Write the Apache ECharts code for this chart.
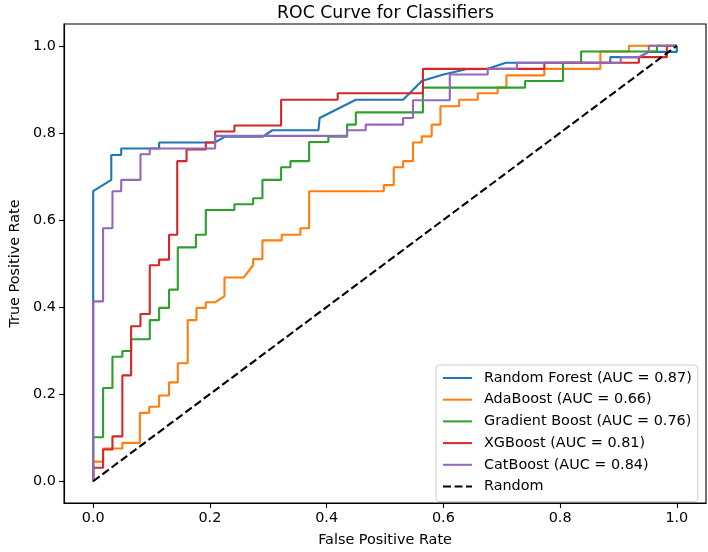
<!DOCTYPE html>
<html>
<head>
<meta charset="utf-8">
<script src="https://cdn.jsdelivr.net/npm/echarts@6/dist/echarts.min.js"></script>
<style>html,body{margin:0;padding:0;background:#fff}#c{width:708px;height:552px}</style>
</head>
<body>
<div id="c"></div>
<script>
const tickValues = [0, 0.2, 0.4, 0.6, 0.8, 1.0];
const seriesNames = ['Random Forest (AUC = 0.87)', 'AdaBoost (AUC = 0.66)', 'Gradient Boost (AUC = 0.76)', 'XGBoost (AUC = 0.81)', 'CatBoost (AUC = 0.84)', 'Random'];
const colors = ['#1f77b4', '#ff7f0e', '#2ca02c', '#d62728', '#9467bd', '#000000'];

const rfFpr = [0, 0, 0.031, 0.031, 0.048, 0.048, 0.113, 0.113, 0.209, 0.225, 0.290, 0.307, 0.386, 0.388, 0.450, 0.531, 0.563, 0.600, 0.639, 0.676, 0.707, 0.886, 0.886, 0.936, 0.952, 1.0, 1.0];
const rfTpr = [0, 0.666, 0.692, 0.749, 0.749, 0.764, 0.764, 0.778, 0.778, 0.791, 0.791, 0.806, 0.806, 0.834, 0.876, 0.876, 0.919, 0.934, 0.946, 0.947, 0.961, 0.961, 0.974, 0.974, 0.986, 0.986, 1.0];

const adaFpr = [0, 0, 0.017, 0.017, 0.050, 0.050, 0.080, 0.080, 0.096, 0.096, 0.113, 0.113, 0.130, 0.130, 0.145, 0.145, 0.162, 0.162, 0.177, 0.177, 0.193, 0.193, 0.209, 0.225, 0.225, 0.258, 0.274, 0.274, 0.290, 0.290, 0.323, 0.323, 0.355, 0.355, 0.370, 0.370, 0.498, 0.498, 0.515, 0.515, 0.531, 0.531, 0.548, 0.548, 0.563, 0.563, 0.580, 0.580, 0.595, 0.595, 0.627, 0.627, 0.659, 0.659, 0.693, 0.693, 0.708, 0.708, 0.773, 0.773, 0.869, 0.869, 0.918, 0.918, 1.0];
const adaTpr = [0, 0.045, 0.045, 0.075, 0.075, 0.088, 0.088, 0.157, 0.157, 0.171, 0.171, 0.197, 0.197, 0.227, 0.227, 0.271, 0.271, 0.370, 0.370, 0.398, 0.398, 0.411, 0.411, 0.425, 0.468, 0.468, 0.496, 0.510, 0.510, 0.553, 0.553, 0.566, 0.566, 0.581, 0.581, 0.666, 0.666, 0.680, 0.680, 0.721, 0.721, 0.735, 0.735, 0.778, 0.778, 0.792, 0.792, 0.819, 0.819, 0.861, 0.861, 0.876, 0.876, 0.891, 0.891, 0.904, 0.904, 0.932, 0.932, 0.947, 0.947, 0.987, 0.987, 1.0, 1.0];

const gbFpr = [0, 0, 0.017, 0.017, 0.033, 0.033, 0.050, 0.050, 0.065, 0.065, 0.097, 0.097, 0.113, 0.113, 0.130, 0.130, 0.145, 0.145, 0.176, 0.176, 0.193, 0.193, 0.242, 0.242, 0.274, 0.274, 0.290, 0.290, 0.322, 0.322, 0.338, 0.338, 0.370, 0.370, 0.403, 0.403, 0.435, 0.435, 0.450, 0.450, 0.565, 0.565, 0.740, 0.740, 0.805, 0.805, 0.836, 0.836, 0.966, 0.966, 1.0];
const gbTpr = [0, 0.101, 0.101, 0.214, 0.214, 0.286, 0.286, 0.299, 0.299, 0.326, 0.326, 0.370, 0.370, 0.398, 0.398, 0.440, 0.440, 0.537, 0.537, 0.566, 0.566, 0.623, 0.623, 0.636, 0.636, 0.650, 0.650, 0.692, 0.692, 0.721, 0.721, 0.735, 0.735, 0.779, 0.779, 0.791, 0.791, 0.819, 0.819, 0.847, 0.847, 0.904, 0.904, 0.919, 0.919, 0.961, 0.961, 0.987, 0.987, 1.0, 1.0];

const xgbFpr = [0, 0, 0.017, 0.017, 0.033, 0.033, 0.050, 0.050, 0.065, 0.065, 0.081, 0.081, 0.097, 0.097, 0.113, 0.113, 0.130, 0.130, 0.144, 0.144, 0.160, 0.160, 0.193, 0.193, 0.209, 0.209, 0.242, 0.242, 0.322, 0.322, 0.419, 0.419, 0.565, 0.565, 0.773, 0.773, 0.935, 0.935, 0.983, 0.983, 1.0];
const xgbTpr = [0, 0.031, 0.031, 0.073, 0.073, 0.103, 0.103, 0.243, 0.243, 0.356, 0.356, 0.384, 0.384, 0.496, 0.496, 0.509, 0.509, 0.566, 0.566, 0.735, 0.735, 0.762, 0.762, 0.778, 0.778, 0.803, 0.803, 0.817, 0.817, 0.876, 0.876, 0.891, 0.891, 0.947, 0.947, 0.961, 0.961, 0.974, 0.974, 1.0, 1.0];

const catFpr = [0, 0, 0.017, 0.017, 0.033, 0.033, 0.048, 0.048, 0.081, 0.081, 0.097, 0.097, 0.209, 0.209, 0.435, 0.435, 0.467, 0.467, 0.531, 0.531, 0.548, 0.548, 0.611, 0.611, 0.676, 0.676, 0.726, 0.726, 0.904, 0.904, 0.935, 0.952, 0.952, 1.0];
const catTpr = [0, 0.413, 0.413, 0.581, 0.581, 0.666, 0.666, 0.692, 0.692, 0.751, 0.751, 0.764, 0.764, 0.793, 0.793, 0.806, 0.806, 0.819, 0.819, 0.834, 0.834, 0.875, 0.875, 0.934, 0.934, 0.947, 0.947, 0.961, 0.961, 0.974, 0.974, 0.986, 1.0, 1.0];

const randFpr = [0, 1];
const randTpr = [0, 1];

const FONT = 'DejaVu Sans';
function pairs(xs, ys) { return xs.map((x, i) => [x, ys[i]]); }
const curves = [[rfFpr, rfTpr], [adaFpr, adaTpr], [gbFpr, gbTpr], [xgbFpr, xgbTpr], [catFpr, catTpr], [randFpr, randTpr]];

const chart = echarts.init(document.getElementById('c'), null, { renderer: 'canvas' });
const series = curves.map((c, i) => ({
  name: seriesNames[i],
  type: 'line',
  data: pairs(c[0], c[1]),
  showSymbol: false,
  symbol: 'none',
  silent: true,
  lineStyle: { color: colors[i], width: 2.1, type: i === 5 ? [8, 3.5] : 'solid' },
  itemStyle: { color: colors[i] },
  z: 2 + i
}));

const axisCommon = {
  type: 'value',
  min: -0.05,
  max: 1.05,
  axisLine: { show: true, onZero: false, lineStyle: { color: '#000', width: 1.1 } },
  axisTick: { show: true, inside: false, length: 5, lineStyle: { color: '#000', width: 1.1 }, customValues: tickValues },
  axisLabel: { color: '#000', fontFamily: FONT, fontSize: 14.4, margin: 8, customValues: tickValues, formatter: v => v.toFixed(1) },
  splitLine: { show: false },
  nameLocation: 'middle',
  nameTextStyle: { color: '#000', fontFamily: FONT, fontSize: 14.4 }
};

chart.setOption({
  animation: false,
  backgroundColor: '#fff',
  title: {
    text: 'ROC Curve for Classifiers',
    left: 380.5, top: 0, textAlign: 'center',
    textStyle: { color: '#000', fontFamily: FONT, fontSize: 17.3, fontWeight: 'normal' }
  },
  grid: { left: 55, right: 2, top: 24, bottom: 43, show: true, borderColor: '#000', borderWidth: 1.1, backgroundColor: 'transparent' },
  xAxis: Object.assign({}, axisCommon, { name: 'False Positive Rate', nameGap: 30 }),
  yAxis: Object.assign({}, axisCommon, { name: 'True Positive Rate', nameGap: 42 }),
  legend: {
    data: seriesNames,
    orient: 'vertical',
    left: 436, top: 365,
    padding: [5, 6, 7, 6],
    itemWidth: 29, itemHeight: 14, itemGap: 5.7,
    itemStyle: { opacity: 0 },
    backgroundColor: 'rgba(255,255,255,0.8)',
    borderColor: '#cccccc', borderWidth: 1, borderRadius: 3,
    textStyle: { color: '#000', fontFamily: FONT, fontSize: 14.4, lineHeight: 16, padding: [0, 0, 0, 7] },
    selectedMode: false
  },
  series: series
});
</script>
</body>
</html>
